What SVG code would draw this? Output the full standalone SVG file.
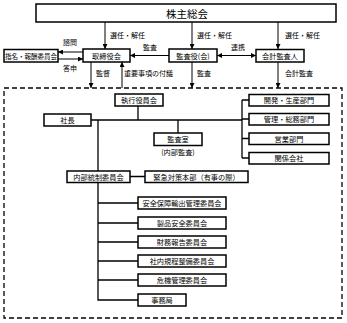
<svg xmlns="http://www.w3.org/2000/svg" width="347" height="323" viewBox="0 0 347 323">
<style>
.box{fill:#fff;stroke:#000;stroke-width:1.5}
.ln{fill:none;stroke:#000;stroke-width:1.3}
.ar{fill:none;stroke:#000;stroke-width:1}
.t{font-family:"Noto Sans CJK JP","Noto Sans CJK SC",sans-serif;font-size:7.2px;fill:#000;text-anchor:middle;dominant-baseline:central}
.lb{font-family:"Noto Sans CJK JP","Noto Sans CJK SC",sans-serif;font-size:7px;fill:#000;dominant-baseline:central}
</style>
<defs>
<marker id="ah" viewBox="0 0 5 5" refX="5" refY="2.5" markerWidth="5" markerHeight="5" markerUnits="userSpaceOnUse" orient="auto-start-reverse">
<path d="M0,0 L5,2.5 L0,5 z" fill="#000"/>
</marker>
</defs>
<rect x="4" y="88" width="338" height="230" fill="none" stroke="#000" stroke-width="1.3" stroke-dasharray="5,3"/>
<g id="connectors">
<line class="ar" x1="105" y1="22" x2="105" y2="49" marker-end="url(#ah)"/>
<line class="ar" x1="192" y1="22" x2="192" y2="49" marker-end="url(#ah)"/>
<line class="ar" x1="278" y1="22" x2="278" y2="49" marker-end="url(#ah)"/>
<line class="ar" x1="83" y1="52" x2="58" y2="52" marker-end="url(#ah)"/>
<line class="ar" x1="58" y1="59" x2="83" y2="59" marker-end="url(#ah)"/>
<line class="ar" x1="169" y1="55.5" x2="130" y2="55.5" marker-end="url(#ah)"/>
<line class="ar" x1="217" y1="55.5" x2="256" y2="55.5" marker-start="url(#ah)" marker-end="url(#ah)"/>
<line class="ar" x1="91" y1="62" x2="91" y2="88" marker-end="url(#ah)"/>
<line class="ar" x1="122" y1="88" x2="122" y2="62" marker-end="url(#ah)"/>
<line class="ar" x1="192" y1="62" x2="192" y2="88" marker-end="url(#ah)"/>
<line class="ar" x1="278" y1="62" x2="278" y2="88" marker-end="url(#ah)"/>
<path class="ln" d="M138,106 V120 M91,120 H242 M242,100 V158 M242,100 H249 M242,119 H249 M242,138.5 H249 M242,158 H249 M178,120 V133 M98,120 V300 H138 M98,203 H138 M98,223 H138 M98,242 H138 M98,261 H138 M98,280 H138 M130,176.5 H145"/>
</g>
<g id="shareholders"><rect class="box" x="36" y="4" width="300" height="18"/><text class="t" x="187" y="13" style="font-size:10.5px">株主総会</text></g>
<g id="nomination"><rect class="box" x="4" y="49.5" width="54" height="12.5"/><text class="t" x="31" y="56" style="font-size:6.5px">指名・報酬委員会</text></g>
<g id="board"><rect class="box" x="83" y="49" width="47" height="13"/><text class="t" x="106.5" y="55.5">取締役会</text></g>
<g id="auditors"><rect class="box" x="169" y="49" width="48" height="13"/><text class="t" x="193" y="55.5">監査役(会)</text></g>
<g id="accounting"><rect class="box" x="256" y="49.5" width="48" height="12.5"/><text class="t" x="280" y="56">会計監査人</text></g>
<g id="labels">
<text class="lb" x="110" y="35">選任・解任</text>
<text class="lb" x="197" y="35">選任・解任</text>
<text class="lb" x="285" y="35">選任・解任</text>
<text class="lb" x="63" y="42">諮問</text>
<text class="lb" x="63" y="68">答申</text>
<text class="lb" x="143" y="47">監査</text>
<text class="lb" x="231" y="47">連携</text>
<text class="lb" x="96" y="73">監督</text>
<text class="lb" x="124" y="73">重要事項の付議</text>
<text class="lb" x="197" y="73">監査</text>
<text class="lb" x="285" y="73">会計監査</text>
</g>
<g id="exec"><rect class="box" x="115" y="94" width="48" height="12"/><text class="t" x="139" y="100">執行役員会</text></g>
<g id="president"><rect class="box" x="44" y="114" width="47" height="12"/><text class="t" x="67.5" y="120">社長</text></g>
<g id="dev"><rect class="box" x="249" y="94.5" width="80" height="11.5"/><text class="t" x="289" y="100.3">開発・生産部門</text></g>
<g id="admin"><rect class="box" x="249" y="113.5" width="80" height="11.5"/><text class="t" x="289" y="119.3">管理・総務部門</text></g>
<g id="sales"><rect class="box" x="249" y="133" width="80" height="11.5"/><text class="t" x="289" y="138.8">営業部門</text></g>
<g id="affiliates"><rect class="box" x="249" y="152.5" width="80" height="11.5"/><text class="t" x="289" y="158.3">関係会社</text></g>
<g id="internalaudit"><rect class="box" x="154" y="133" width="48" height="12.5"/><text class="t" x="178" y="139.3">監査室</text><text class="t" x="178" y="152">(内部監査)</text></g>
<g id="control"><rect class="box" x="67" y="171" width="63" height="11.5"/><text class="t" x="98.5" y="176.8">内部統制委員会</text></g>
<g id="emergency"><rect class="box" x="145" y="171" width="103" height="11.5"/><text class="t" x="196.5" y="176.8">緊急対策本部（有事の際）</text></g>
<g id="c1"><rect class="box" x="138" y="197" width="88" height="12"/><text class="t" x="182" y="203">安全保障輸出管理委員会</text></g>
<g id="c2"><rect class="box" x="138" y="217" width="88" height="12"/><text class="t" x="182" y="223">製品安全委員会</text></g>
<g id="c3"><rect class="box" x="138" y="236" width="88" height="12"/><text class="t" x="182" y="242">財務報告委員会</text></g>
<g id="c4"><rect class="box" x="138" y="255" width="88" height="12"/><text class="t" x="182" y="261">社内規程整備委員会</text></g>
<g id="c5"><rect class="box" x="138" y="274" width="88" height="12"/><text class="t" x="182" y="280">危機管理委員会</text></g>
<g id="c6"><rect class="box" x="138" y="294" width="48" height="12"/><text class="t" x="162" y="300">事務局</text></g>
</svg>
